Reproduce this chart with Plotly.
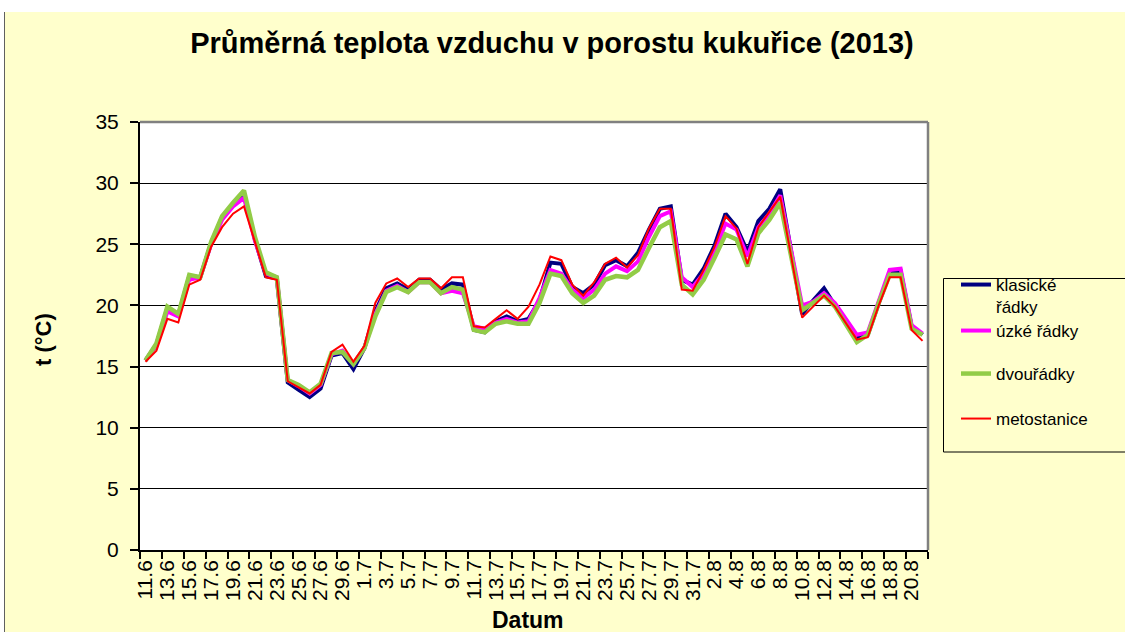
import plotly.graph_objects as go

dates = ["11.6","12.6","13.6","14.6","15.6","16.6","17.6","18.6","19.6","20.6",
         "21.6","22.6","23.6","24.6","25.6","26.6","27.6","28.6","29.6","30.6",
         "1.7","2.7","3.7","4.7","5.7","6.7","7.7","8.7","9.7","10.7",
         "11.7","12.7","13.7","14.7","15.7","16.7","17.7","18.7","19.7","20.7",
         "21.7","22.7","23.7","24.7","25.7","26.7","27.7","28.7","29.7","30.7",
         "31.7","1.8","2.8","3.8","4.8","5.8","6.8","7.8","8.8","9.8",
         "10.8","11.8","12.8","13.8","14.8","15.8","16.8","17.8","18.8","19.8",
         "20.8","21.8"]

klasicke = [15.5,16.8,19.8,19.2,22.4,22.3,25.1,27.2,28.3,29.2,
            25.4,22.4,22.2,13.7,13.1,12.5,13.2,15.9,16.1,14.8,
            16.5,19.5,21.4,21.8,21.3,22.1,22.1,21.3,21.8,21.7,
            18.0,17.8,18.7,19.1,18.7,18.9,20.4,23.5,23.4,21.5,
            21.0,21.7,23.3,23.7,23.2,24.3,26.2,27.9,28.1,22.1,
            21.7,23.0,24.9,27.5,26.4,24.4,26.9,27.9,29.5,24.2,
            19.3,20.4,21.4,20.0,18.8,17.3,17.6,20.2,22.6,22.8,
            18.3,17.6]

uzke = [15.5,16.8,19.5,19.1,22.1,22.3,25.0,27.0,28.1,28.8,
        25.3,22.6,22.3,13.9,13.4,12.8,13.5,16.0,16.3,15.2,
        16.5,19.3,21.2,21.6,21.1,21.9,21.9,21.0,21.2,21.0,
        18.3,18.1,18.6,18.9,18.6,18.7,20.6,22.9,22.6,21.3,
        20.6,21.3,22.6,23.2,22.8,23.6,25.6,27.3,27.7,22.3,
        21.5,22.6,24.4,26.7,26.2,24.0,26.4,27.5,29.0,24.5,
        20.0,20.3,21.0,20.2,18.9,17.6,17.8,20.4,22.9,23.0,
        18.4,17.7]

dvouradky = [15.5,16.9,19.9,19.3,22.5,22.3,25.2,27.3,28.4,29.4,
             25.6,22.7,22.3,13.9,13.5,12.9,13.6,16.1,16.2,15.2,
             16.5,19.1,21.1,21.5,21.1,21.9,21.9,21.0,21.5,21.3,
             18.0,17.8,18.5,18.7,18.5,18.5,20.2,22.6,22.4,21.0,
             20.2,20.8,22.1,22.4,22.3,22.9,24.7,26.4,26.9,21.7,
             20.9,22.1,23.9,25.8,25.4,23.2,25.9,27.0,28.4,24.0,
             19.6,20.2,20.8,19.9,18.5,17.0,17.6,20.2,22.5,22.5,
             18.1,17.6]

metostanice = [15.4,16.3,18.9,18.6,21.7,22.1,24.8,26.4,27.5,28.1,
               25.2,22.3,22.1,13.8,13.3,12.8,13.5,16.2,16.8,15.4,
               16.7,20.2,21.8,22.2,21.5,22.2,22.2,21.4,22.3,22.3,
               18.3,18.2,18.9,19.6,18.9,19.9,21.7,24.0,23.7,21.7,
               20.8,21.9,23.4,23.9,23.1,24.1,26.3,27.9,27.9,21.3,
               21.2,22.9,24.8,27.3,26.3,23.4,26.4,27.7,28.9,24.0,
               19.0,19.9,20.8,19.9,18.5,17.2,17.4,20.0,22.3,22.3,
               18.0,17.1]

series_names = ["klasické<br>řádky", "úzké řádky", "dvouřádky", "metostanice"]
series_values = [klasicke, uzke, dvouradky, metostanice]
series_colors = ["#000080", "#FF00FF", "#92CC47", "#FF0000"]
series_widths = [4, 4, 4.5, 2]
legend_rows_px = [287, 333, 376, 421]  # first-line centre of each legend entry

FONT = "Liberation Sans, Arial, sans-serif"
W, H = 1125, 632
L, R, T, B = 140, 197, 122, 82
PW, PH = W - L - R, H - T - B


def px_x(p):
    return (p - L) / PW


def px_y(p):
    return (H - B - p) / PH


idx = list(range(len(dates)))
fig = go.Figure()
legend_layouts = {}
for i, (name, vals, color, width) in enumerate(
        zip(series_names, series_values, series_colors, series_widths)):
    key = "legend" if i == 0 else f"legend{i + 1}"
    fig.add_trace(go.Scatter(
        x=idx, y=vals, mode="lines", name=name,
        line=dict(color=color, width=width),
        legend=key,
    ))
    legend_layouts[key] = dict(
        x=px_x(956), y=px_y(legend_rows_px[i] - 20), xanchor="left", yanchor="top",
        bgcolor="rgba(0,0,0,0)", borderwidth=0,
        font=dict(size=17, family=FONT, color="black"), valign="top",
    )

shapes = [
    dict(type="rect", xref="paper", yref="paper", layer="below",
         x0=px_x(5), x1=px_x(W + 5), y0=px_y(H + 5), y1=px_y(12),
         fillcolor="#FFFFCC", line=dict(width=0)),
    dict(type="rect", xref="paper", yref="paper", layer="below",
         x0=0, x1=1, y0=0, y1=1, fillcolor="white", line=dict(width=0)),
    dict(type="line", xref="paper", yref="paper", layer="above",
         x0=px_x(4.5), x1=px_x(4.5), y0=px_y(H + 5), y1=px_y(12),
         line=dict(color="#606060", width=1)),
    dict(type="line", xref="paper", yref="paper", layer="above",
         x0=0, x1=1, y0=1, y1=1, line=dict(color="#808080", width=2.5)),
    dict(type="line", xref="paper", yref="paper", layer="above",
         x0=1, x1=1, y0=0, y1=1, line=dict(color="#808080", width=2.5)),
    dict(type="rect", xref="paper", yref="paper", layer="above",
         x0=px_x(943.5), x1=px_x(W + 10), y0=px_y(452), y1=px_y(278.5),
         line=dict(color="black", width=1), fillcolor="rgba(0,0,0,0)"),
]

fig.update_layout(
    width=W, height=H,
    margin=dict(l=L, r=R, t=T, b=B, autoexpand=False),
    paper_bgcolor="white", plot_bgcolor="white",
    font=dict(family=FONT, color="black"),
    title=dict(text="<b>Průměrná teplota vzduchu v porostu kukuřice (2013)</b>",
               x=552 / W, xanchor="center", y=1 - 43 / H, yanchor="middle",
               yref="container", font=dict(size=29, family=FONT)),
    showlegend=True,
    shapes=shapes,
    annotations=[
        dict(text="<b>t (°C)</b>", xref="paper", yref="paper",
             x=px_x(43), y=px_y(340), xanchor="center", yanchor="middle",
             textangle=-90, showarrow=False,
             font=dict(size=22, family=FONT)),
        dict(text="<b>Datum</b>", xref="paper", yref="paper",
             x=px_x(528), y=px_y(620), xanchor="center", yanchor="middle",
             showarrow=False, font=dict(size=23, family=FONT)),
    ],
    **legend_layouts,
)

fig.update_xaxes(
    range=[-0.5, len(dates) - 0.5],
    tickmode="array", tickvals=idx[::2], ticktext=dates[::2],
    tickangle=-90, ticks="", ticklen=0,
    tickfont=dict(size=21, family=FONT),
    showgrid=False, zeroline=False,
    showline=True, linecolor="black", linewidth=1.5,
    minor=dict(tickmode="array",
               tickvals=[v - 0.5 for v in range(0, len(dates) + 1, 2)],
               ticks="outside", ticklen=7, tickcolor="black", tickwidth=1.5,
               showgrid=False),
)
fig.update_yaxes(
    range=[0, 35], tickmode="array", tickvals=list(range(0, 36, 5)),
    ticks="outside", ticklen=8, tickcolor="black", tickwidth=1.5,
    ticklabelstandoff=7,
    tickfont=dict(size=21, family=FONT),
    showgrid=True, gridcolor="black", gridwidth=1,
    zeroline=False, showline=True, linecolor="black", linewidth=2,
)

fig.write_html(
    "out.html",
    config={"displayModeBar": False},
    post_script="document.body.style.margin='0';document.body.style.overflow='hidden';",
)
